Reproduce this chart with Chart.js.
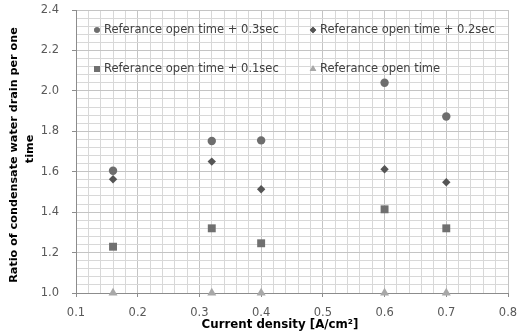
<!DOCTYPE html>
<html>
<head>
<meta charset="utf-8">
<script src="https://cdn.jsdelivr.net/npm/chart.js@4"></script>
<style>
  html, body { margin: 0; padding: 0; background: #fff; }
  #wrap { width: 517px; height: 335px; }
</style>
</head>
<body>
<div id="wrap"><canvas id="chart" width="517" height="335"></canvas></div>
<script>
const currentDensity = [0.16, 0.32, 0.40, 0.60, 0.70];
const plus03 = [1.605, 1.752, 1.755, 2.04, 1.873];
const plus02 = [1.563, 1.65, 1.513, 1.612, 1.548];
const plus01 = [1.229, 1.32, 1.246, 1.414, 1.32];
const refTime = [1.0, 1.0, 1.0, 1.0, 1.0];
const seriesNames = [
  "Referance open time + 0.3sec",
  "Referance open time + 0.2sec",
  "Referance open time + 0.1sec",
  "Referance open time"
];
const xTickLabels = ["0.1", "0.2", "0.3", "0.4", "0.5", "0.6", "0.7", "0.8"];
const yTickLabels = ["1.0", "1.2", "1.4", "1.6", "1.8", "2.0", "2.2", "2.4"];
const xTitle = "Current density [A/cm²]";
const yTitle = ["Ratio of condensate water drain per one", "time"];

function pts(ys) {
  return ys.map((y, i) => ({ x: currentDensity[i], y: y }));
}

function isMajor(v, step) {
  const r = v / step;
  return Math.abs(r - Math.round(r)) < 1e-6;
}

// legend inside the plot area in two columns, plus the axis titles
const extras = {
  id: "extras",
  afterDraw(chart) {
    const ctx = chart.ctx;
    const spots = [[97, 30], [313, 30], [97, 69], [313, 69]];
    const legendSizes = [2.8, 3.2, 4.2, 3.8];
    ctx.save();
    ctx.font = "11.5px 'DejaVu Sans'";
    ctx.textBaseline = "middle";
    chart.data.datasets.forEach((ds, i) => {
      const [x, y] = spots[i];
      ctx.fillStyle = ds.backgroundColor;
      Chart.helpers.drawPoint(ctx, { pointStyle: ds.pointStyle, radius: legendSizes[i], borderWidth: 0 }, x, y);
      ctx.fill();
      ctx.fillStyle = "#404040";
      ctx.fillText(seriesNames[i], x + 7, y + 0.5);
    });

    ctx.fillStyle = "#000";
    ctx.textAlign = "center";
    ctx.font = "bold 11.8px 'DejaVu Sans'";
    ctx.fillText(xTitle, 280, 325);

    ctx.font = "bold 11.2px 'DejaVu Sans'";
    ctx.translate(0, 155);
    ctx.rotate(-Math.PI / 2);
    ctx.fillText(yTitle[0], 0, 14);
    ctx.fillText(yTitle[1], 6, 30);
    ctx.restore();
  }
};

const ctx = document.getElementById("chart");
new Chart(ctx, {
  type: "scatter",
  data: {
    datasets: [
      { label: seriesNames[0], data: pts(plus03), pointStyle: "circle", pointRadius: 4.2, backgroundColor: "#6e6e6e", borderWidth: 0, clip: false },
      { label: seriesNames[1], data: pts(plus02), pointStyle: "rectRot", pointRadius: 4.2, backgroundColor: "#555555", borderWidth: 0, clip: false },
      { label: seriesNames[2], data: pts(plus01), pointStyle: "rect", pointRadius: 5.6, backgroundColor: "#707070", borderWidth: 0, clip: false },
      { label: seriesNames[3], data: pts(refTime), pointStyle: "triangle", pointRadius: 5.2, backgroundColor: "#a8a8a8", borderWidth: 0, clip: false }
    ]
  },
  plugins: [extras],
  options: {
    responsive: false,
    animation: false,
    layout: { padding: { top: 10, right: 9, left: 0, bottom: 0 } },
    plugins: {
      legend: { display: false },
      tooltip: { enabled: false }
    },
    scales: {
      x: {
        type: "linear",
        min: 0.1,
        max: 0.8,
        afterFit: (s) => { s.height = 42; s.paddingLeft = 0; s.paddingRight = 0; },
        ticks: {
          stepSize: 0.02,
          autoSkip: false,
          maxRotation: 0,
          color: "#595959",
          font: { family: "DejaVu Sans", size: 11.5 },
          padding: 9,
          callback: (v) => isMajor(v - 0.1, 0.1) ? xTickLabels[Math.round((v - 0.1) / 0.1)] : ""
        },
        grid: {
          color: (c) => isMajor(c.tick.value - 0.1, 0.1) ? "#c4c4c4" : "#d8d8d8",
          tickColor: (c) => isMajor(c.tick.value - 0.1, 0.1) ? "#8c8c8c" : "rgba(0,0,0,0)",
          tickLength: 4
        },
        border: { color: "#8c8c8c" }
      },
      y: {
        min: 1.0,
        max: 2.4,
        afterFit: (s) => { s.width = 76; s.paddingTop = 0; s.paddingBottom = 0; },
        ticks: {
          stepSize: 0.04,
          autoSkip: false,
          color: "#595959",
          font: { family: "DejaVu Sans", size: 11.5 },
          padding: 13,
          callback: (v) => isMajor(v - 1.0, 0.2) ? yTickLabels[Math.round((v - 1.0) / 0.2)] : ""
        },
        grid: {
          color: (c) => isMajor(c.tick.value - 1.0, 0.2) ? "#c4c4c4" : "#d8d8d8",
          tickColor: (c) => isMajor(c.tick.value - 1.0, 0.2) ? "#8c8c8c" : "rgba(0,0,0,0)",
          tickLength: 4
        },
        border: { color: "#8c8c8c" }
      }
    }
  }
});
</script>
</body>
</html>
